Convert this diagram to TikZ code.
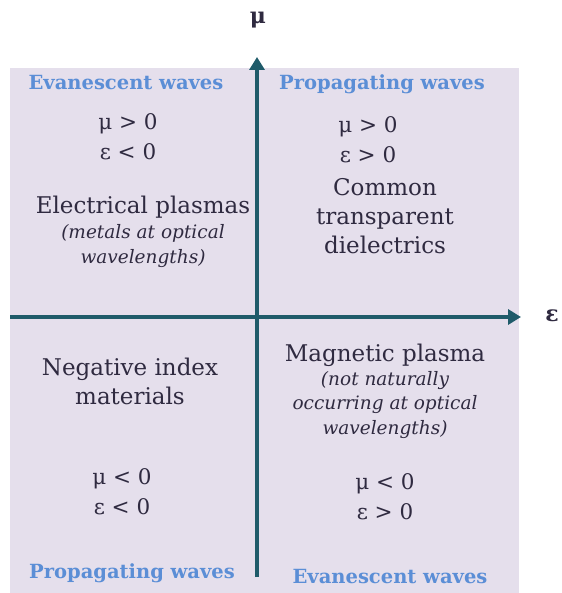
\documentclass[tikz,border=0pt]{standalone}
\usepackage{fontspec}
\setmainfont{DejaVu Serif}
\usepackage{xcolor}
\usetikzlibrary{arrows.meta}

\definecolor{quadbg}{HTML}{E5DFEC}
\definecolor{axisteal}{HTML}{1F5B6A}
\definecolor{waveblue}{HTML}{5B8ED6}
\definecolor{textdark}{HTML}{2F2A40}

\tikzset{
  axisline/.style={line width=3.5pt, axisteal, -{Triangle[length=13pt, width=15pt]}},
  wavelabel/.style={waveblue, font=\fontsize{19.5}{22}\selectfont\bfseries},
  signlabel/.style={textdark, align=center, font=\fontsize{21.5}{30}\selectfont},
  matlabel/.style={textdark, align=center, font=\fontsize{23}{29}\selectfont},
  notelabel/.style={textdark, align=center, font=\fontsize{18.5}{24.5}\selectfont\itshape},
  axislabel/.style={textdark, font=\fontsize{22}{26}\selectfont\bfseries}
}

\begin{document}
\begin{tikzpicture}[x=1pt, y=-1pt]
        \useasboundingbox (0,0) rectangle (561,593);

        % Background
        \fill[quadbg] (10,68) rectangle (519,593);

        % Axes
        \coordinate (xstart) at (10,317);
        \coordinate (xend) at (521,317);
        \coordinate (ystart) at (257,577);
        \coordinate (yend) at (257,57);
        \draw[axisline] (xstart) -- (xend);
        \draw[axisline] (ystart) -- (yend);
        \node[axislabel] (mu) at (258,20) {μ};
        \node[axislabel] (eps) at (552,316) {ε};

        % Upper left
        \node[wavelabel] (evtop) at (126,83) {Evanescent waves};
        \node[signlabel] (ulsign) at (128,137) {μ > 0\\ε < 0};
        \node[matlabel] (elplasma) at (143,207) {Electrical plasmas};
        \node[notelabel] (elnote) at (143,246) {(metals at optical\\wavelengths)};

        % Upper right
        \node[wavelabel] (prtop) at (382,84) {Propagating waves};
        \node[signlabel] (ursign) at (368,140) {μ > 0\\ε > 0};
        \node[matlabel] (common) at (385,216) {Common\\transparent\\dielectrics};

        % Lower left
        \node[matlabel] (negindex) at (130,381) {Negative index\\materials};
        \node[signlabel] (llsign) at (122,492) {μ < 0\\ε < 0};
        \node[wavelabel] (prbot) at (132,573) {Propagating waves};

        % Lower right
        \node[matlabel] (magplasma) at (385,355) {Magnetic plasma};
        \node[notelabel] (magnote) at (385,405) {(not naturally\\occurring at optical\\wavelengths)};
        \node[signlabel] (lrsign) at (385,497) {μ < 0\\ε > 0};
        \node[wavelabel] (evbot) at (390,577) {Evanescent waves};

    \end{tikzpicture}
\end{document}
